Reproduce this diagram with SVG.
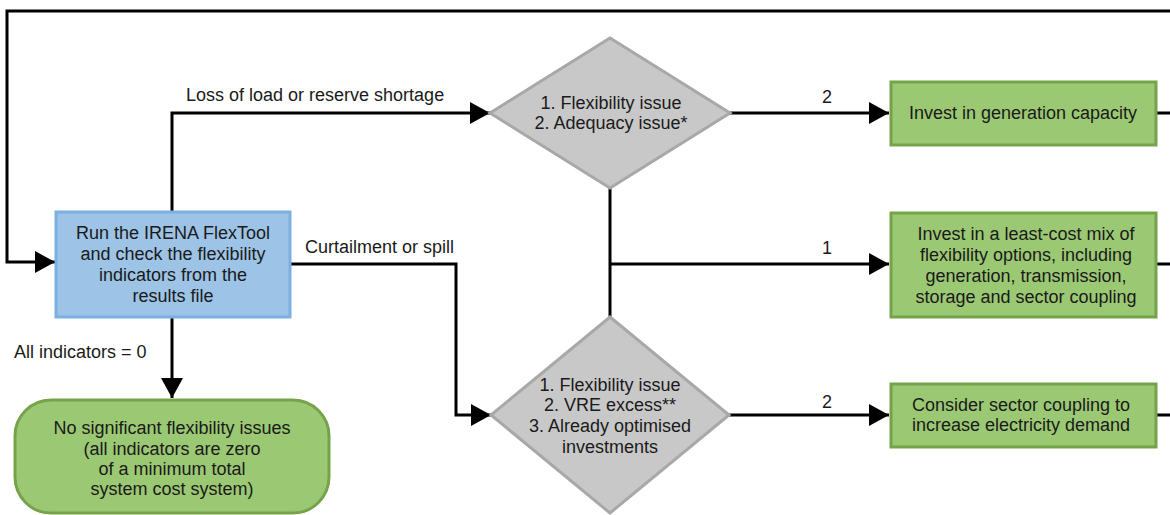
<svg xmlns="http://www.w3.org/2000/svg" width="1170" height="515" viewBox="0 0 1170 515">
<defs>
<marker id="arr" markerWidth="20" markerHeight="22" refX="20" refY="11" orient="auto" markerUnits="userSpaceOnUse">
<path d="M0,0 L20,11 L0,22 Z" fill="#000"/>
</marker>
<style>
.t{font-family:"Liberation Sans",Arial,sans-serif;font-size:18px;fill:#1a1a1a;text-anchor:middle}
.l{font-family:"Liberation Sans",Arial,sans-serif;font-size:18px;fill:#1a1a1a}
.c{fill:none;stroke:#000;stroke-width:3}
.green{fill:#9BC873;stroke:#76A34A;stroke-width:3}
.blue{fill:#9DC3E6;stroke:#7DB0E2;stroke-width:3}
.gray{fill:#C8C8C8;stroke:#A8A8A8;stroke-width:3}
</style>
</defs>
<rect width="1170" height="515" fill="#fff"/>
<g id="connectors">
<path class="c" d="M1170,11 H7 V262 H55" marker-end="url(#arr)"/>
<path class="c" d="M172,211 V113 H490" marker-end="url(#arr)"/>
<path class="c" d="M730,113 H889" marker-end="url(#arr)"/>
<path class="c" d="M610,188 V317"/>
<path class="c" d="M610,264 H889" marker-end="url(#arr)"/>
<path class="c" d="M290,264 H456 V415 H491" marker-end="url(#arr)"/>
<path class="c" d="M729,415 H889" marker-end="url(#arr)"/>
<path class="c" d="M172,317 V398" marker-end="url(#arr)"/>
<path class="c" d="M1156,113 H1170 M1156,264 H1170 M1156,415 H1170"/>
<text class="l" x="186" y="101">Loss of load or reserve shortage</text>
<text class="l" x="305" y="253">Curtailment or spill</text>
<text class="l" x="14" y="358">All indicators = 0</text>
<text class="t" x="827" y="103">2</text>
<text class="t" x="827" y="254">1</text>
<text class="t" x="827" y="408">2</text>
</g>
<g id="run">
<rect class="blue" x="56" y="212" width="234" height="105"/>
<text class="t" x="173" y="239">Run the IRENA FlexTool</text>
<text class="t" x="173" y="260">and check the flexibility</text>
<text class="t" x="173" y="281">indicators from the</text>
<text class="t" x="173" y="302">results file</text>
</g>
<g id="noissue">
<rect class="green" x="15" y="400" width="314" height="113" rx="36" ry="36"/>
<text class="t" x="172" y="434">No significant flexibility issues</text>
<text class="t" x="172" y="455">(all indicators are zero</text>
<text class="t" x="172" y="475">of a minimum total</text>
<text class="t" x="172" y="495">system cost system)</text>
</g>
<g id="dec1">
<polygon class="gray" points="610,38 730,113 610,188 490,113"/>
<text class="t" x="611" y="109">1. Flexibility issue</text>
<text class="t" x="611" y="129">2. Adequacy issue*</text>
</g>
<g id="dec2">
<polygon class="gray" points="610,317 729,415 610,513 491,415"/>
<text class="t" x="610" y="391">1. Flexibility issue</text>
<text class="t" x="610" y="411">2. VRE excess**</text>
<text class="t" x="610" y="432">3. Already optimised</text>
<text class="t" x="610" y="453">investments</text>
</g>
<g id="gen">
<rect class="green" x="891" y="82" width="265" height="63"/>
<text class="t" x="1023" y="119">Invest in generation capacity</text>
</g>
<g id="mix">
<rect class="green" x="891" y="213" width="265" height="104"/>
<text class="t" x="1026" y="240">Invest in a least-cost mix of</text>
<text class="t" x="1026" y="261">flexibility options, including</text>
<text class="t" x="1026" y="282">generation, transmission,</text>
<text class="t" x="1026" y="303">storage and sector coupling</text>
</g>
<g id="sector">
<rect class="green" x="891" y="384" width="265" height="63"/>
<text class="t" x="1021" y="411">Consider sector coupling to</text>
<text class="t" x="1021" y="431">increase electricity demand</text>
</g>
</svg>
